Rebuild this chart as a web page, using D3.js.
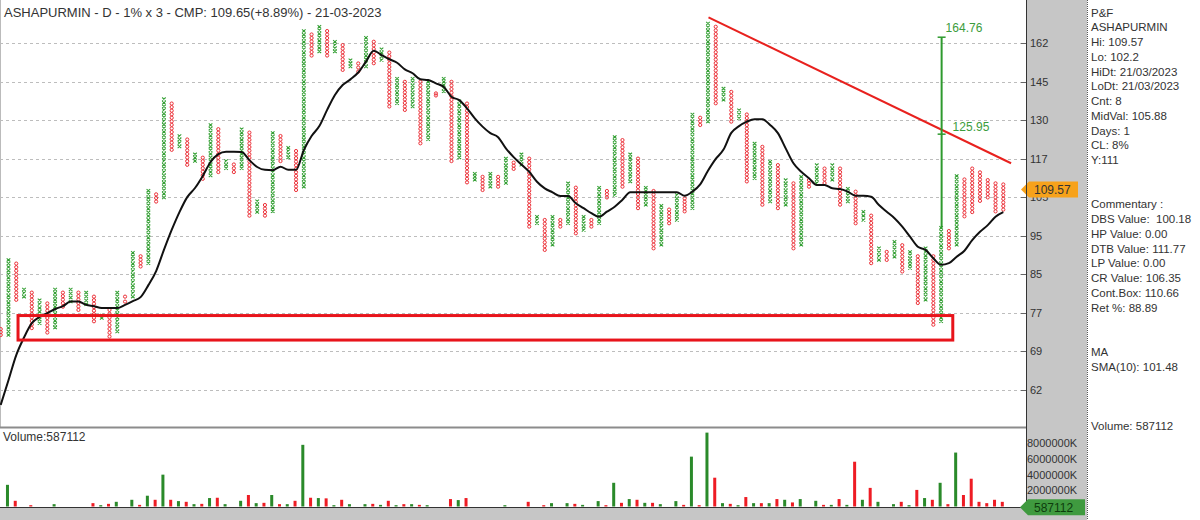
<!DOCTYPE html>
<html><head><meta charset="utf-8">
<script src="https://cdn.jsdelivr.net/npm/d3@7"></script>
<style>body{margin:0;background:#fff}svg{display:block;font-family:Arial,"Liberation Sans",sans-serif}</style>
</head><body><svg id="c" width="1200" height="520"></svg>
<script>
// ---------------- DATA ----------------
const colType = "OXOXOXOXOXOXOXOXOXOXOXOXOXOXOXOXOXOXOXOXOXOXOXOXOXOXOXOXOXOXOXOXOXOXOXOXOXOXOXOXOXOXOXOXOXOXOXOXOXOXOXOXOXOXOXOXOXOXOXOXOXOX";
const colLow = [72.2,72.2,79.6,80.3,73.6,74.6,72.7,73.7,78.1,79.2,
77.4,78.6,75.0,75.7,71.9,72.9,79.2,80.3,87.3,88.1,
104.5,105.7,120.6,121.7,115.7,116.9,111.3,112.3,113.4,114.6,
113.4,114.6,100.5,101.5,100.5,101.7,116.9,118.1,107.9,108.9,
156.6,158.4,156.6,158.4,150.5,151.9,149.8,151.9,153.3,154.7,
136.0,137.2,134.7,136.0,122.8,124.2,140.2,141.8,116.9,118.1,
110.2,111.0,107.9,108.9,108.9,110.0,114.4,115.7,97.5,98.4,
91.4,92.7,97.5,98.4,95.7,96.6,97.5,98.4,105.7,106.4,
108.9,110.5,102.6,103.6,91.8,92.7,98.4,99.3,101.7,102.6,
129.2,130.4,137.2,138.5,130.4,131.6,110.5,111.5,103.6,104.5,
102.6,103.6,91.8,92.7,108.9,110.0,110.0,111.0,103.6,104.5,
98.4,99.3,88.1,88.9,88.9,89.7,86.1,86.9,78.9,79.6,
74.3,75.0,91.8,92.7,100.3,101.5,104.7,105.7,101.7,102.2];
const colHigh = [73.4,88.9,88.0,81.9,81.2,79.5,78.8,81.9,81.2,81.9,
81.2,81.2,80.3,76.2,77.4,81.2,80.3,90.7,89.8,107.7,
106.6,138.8,137.1,125.3,124.1,119.1,118.0,129.2,127.7,116.9,
115.8,127.7,126.5,104.6,103.5,126.4,125.3,121.3,120.2,167.6,
166.0,169.6,167.6,162.7,161.2,154.6,153.2,164.5,162.7,159.4,
157.9,146.9,145.6,146.9,145.6,145.6,141.0,146.9,145.6,138.0,
137.1,112.9,111.9,112.9,111.9,117.7,116.4,119.1,117.7,100.2,
99.3,100.2,99.3,109.9,108.6,100.2,99.3,108.6,107.6,125.0,
123.9,119.1,117.7,108.6,107.6,103.3,102.2,106.4,105.4,133.0,
131.8,171.1,169.6,142.9,141.6,134.6,133.0,122.7,121.6,116.7,
115.6,110.9,109.9,111.9,110.9,115.6,114.5,115.6,114.5,108.3,
107.4,101.6,100.5,91.8,90.9,93.5,92.6,90.9,89.8,91.8,
89.8,97.2,96.3,112.2,111.1,114.5,113.3,110.9,109.9,109.57];
const maValues = [59.5,63.7,68.3,71.7,74.6,75.9,76.7,77.6,78.2,79.2,
79.2,78.5,78.2,77.8,77.8,77.8,78.5,79.3,80.2,82.9,
86.2,91.4,96.6,101.5,105.8,108.5,112.2,116.6,119.2,120.0,
120.0,119.9,117.2,115.0,114.1,114.0,115.1,114.1,114.1,120.5,
125.3,128.8,134.7,140.4,144.3,146.6,149.4,154.0,158.7,156.8,
155.0,153.5,150.7,149.1,146.6,146.3,145.0,143.6,139.7,138.4,
135.3,131.6,128.6,126.3,124.9,121.1,118.2,115.8,113.5,110.4,
108.4,107.2,106.1,106.1,104.0,102.6,101.2,100.2,101.6,103.0,
105.0,107.2,107.2,107.2,107.2,107.2,107.2,107.2,106.2,107.4,
109.6,113.8,117.6,120.7,126.4,128.8,130.4,131.3,131.3,129.2,
126.3,121.1,116.2,113.5,111.5,109.4,109.4,108.4,108.2,107.4,
106.2,106.2,105.9,103.5,101.6,99.8,97.5,94.8,92.2,91.4,
89.3,87.7,88.1,89.7,91.2,93.9,96.1,97.9,100.2,101.48];
const volumes = [0,2730000,718000,0,167000,0,0,295000,0,0,
0,0,423000,167000,333000,590000,0,846000,205000,1359000,
846000,4013000,846000,680000,590000,295000,333000,1064000,1103000,295000,
0,718000,1449000,423000,462000,1449000,295000,295000,718000,7769000,
1103000,1064000,1026000,167000,846000,295000,0,295000,333000,205000,
718000,167000,295000,295000,205000,167000,0,0,936000,808000,
1064000,0,0,0,0,167000,0,0,590000,0,
167000,423000,0,423000,333000,205000,0,680000,167000,2987000,
462000,936000,846000,462000,462000,295000,0,680000,205000,6282000,
167000,9308000,3628000,423000,333000,167000,1192000,423000,423000,423000,
936000,846000,513000,936000,0,718000,205000,205000,936000,205000,
5641000,846000,2346000,590000,0,295000,590000,167000,2090000,1064000,
846000,2987000,295000,6795000,1449000,3500000,590000,423000,846000,587112];
const yTickLabels = ["62","69","77","85","95","105","117","130","145","162"];
const volTickValues = [2000000,4000000,6000000,8000000];
const trendLine = [{col:91.07, value:174.1},{col:130, value:116.2}];
const supportBox = {colStart:2.23, colEnd:122.5, low:71.2, high:76.2};
const target = {col:121, from:97.2, to:164.76, mid:125.95};
const lastPrice = 109.57;
const lastVolume = 587112;
const titleText = "ASHAPURMIN - D - 1% x 3 - CMP: 109.65(+8.89%) - 21-03-2023";
const infoLines = ["P&F","ASHAPURMIN","Hi: 109.57","Lo: 102.2","HiDt: 21/03/2023","LoDt: 21/03/2023","Cnt: 8","MidVal: 105.88","Days: 1","CL: 8%","Y:111","","","Commentary :","DBS Value:  100.18","HP Value: 0.00","DTB Value: 111.77","LP Value: 0.00","CR Value: 106.35","Cont.Box: 110.66","Ret %: 88.89","","","MA","SMA(10): 101.48","","","","Volume: 587112"];

// ---------------- CHART ----------------
const svg = d3.select('#c');
const x = d3.scaleLinear().domain([0,129]).range([0.7,1003.3]);
const y = d3.scaleLog().domain([62,162]).range([390,43.3]);
const yv = d3.scaleLinear().domain([0,8000000]).range([506.5,443]);
const GREEN_X = "#35a035", RED_O = "#ec2f37", GRAY = "#c6c6c6";

const defs = svg.append('defs');
defs.append('clipPath').attr('id','clipMain').append('rect').attr('x',0).attr('y',0).attr('width',1026).attr('height',427);
defs.append('clipPath').attr('id','clipVol').append('rect').attr('x',0).attr('y',428).attr('width',1026).attr('height',79.5);

// background panels
svg.append('rect').attr('x',1026).attr('y',0).attr('width',61).attr('height',520).attr('fill',GRAY);
svg.append('rect').attr('x',0).attr('y',508).attr('width',1087).attr('height',12).attr('fill',GRAY);
svg.append('line').attr('x1',1087.5).attr('x2',1087.5).attr('y1',0).attr('y2',520).attr('stroke','#555').attr('stroke-dasharray','1,1');
svg.append('line').attr('x1',0.5).attr('x2',0.5).attr('y1',0).attr('y2',427).attr('stroke','#bbb');

// y grid + axis
const tickVals = yTickLabels.map((l,i)=>62*Math.pow(162/62, i/(yTickLabels.length-1)));
const gg = svg.append('g');
tickVals.forEach((v,i)=>{
  const yy = Math.round(y(v))+0.5;
  gg.append('line').attr('x1',0).attr('x2',1021).attr('y1',yy).attr('y2',yy)
    .attr('stroke','#bdbdbd').attr('stroke-dasharray','3,3');
  gg.append('line').attr('x1',1021).attr('x2',1026).attr('y1',yy).attr('y2',yy).attr('stroke','#666');
  gg.append('text').attr('x',1030).attr('y',yy).attr('dy','0.35em').attr('font-size',11).attr('fill','#333').text(yTickLabels[i]);
});

// columns
const gc = svg.append('g').attr('clip-path','url(#clipMain)');
colLow.forEach((lo,i)=>{
  const hi = colHigh[i];
  const n = Math.max(1, Math.round(Math.log(hi/lo)/Math.log(1.01))+1);
  const cx = x(i);
  const vals = d3.range(n).map(k => n===1 ? lo : lo*Math.pow(hi/lo, k/(n-1)));
  if (colType[i]==='X') {
    const p = vals.map(v=>{const cy=y(v);return `M${cx-1.8},${cy-1.6}L${cx+1.8},${cy+1.6}M${cx+1.8},${cy-1.6}L${cx-1.8},${cy+1.6}`;}).join('');
    gc.append('path').attr('d',p).attr('stroke',GREEN_X).attr('stroke-width',1.05).attr('fill','none');
  } else {
    gc.selectAll(null).data(vals).enter().append('circle').attr('cx',cx).attr('cy',d=>y(d)).attr('r',1.6)
      .attr('fill','none').attr('stroke',RED_O).attr('stroke-width',1.0);
  }
});

// moving average
gc.append('path').datum(maValues)
  .attr('d', d3.line().x((d,i)=>x(i)).y(d=>y(d)).curve(d3.curveMonotoneX))
  .attr('fill','none').attr('stroke','#111').attr('stroke-width',2);

// trendline
gc.append('line').attr('x1',x(trendLine[0].col)).attr('y1',y(trendLine[0].value))
  .attr('x2',x(trendLine[1].col)).attr('y2',y(trendLine[1].value))
  .attr('stroke','#e8211e').attr('stroke-width',2);

// support box
gc.append('rect').attr('x',x(supportBox.colStart)).attr('y',y(supportBox.high))
  .attr('width',x(supportBox.colEnd)-x(supportBox.colStart)).attr('height',y(supportBox.low)-y(supportBox.high))
  .attr('fill','none').attr('stroke','#e8141b').attr('stroke-width',3);

// target line
const tx = x(target.col)+0.5;
gc.append('line').attr('x1',tx).attr('x2',tx).attr('y1',y(target.from)).attr('y2',y(target.to)).attr('stroke','#2e9a2e').attr('stroke-width',2);
[target.to, target.mid].forEach(v=>{
  gc.append('line').attr('x1',tx-4).attr('x2',tx+4).attr('y1',y(v)).attr('y2',y(v)).attr('stroke','#2e9a2e').attr('stroke-width',1.5);
});
svg.append('text').attr('x',tx+4).attr('y',y(target.to)-9).attr('dy','0.35em').attr('font-size',12).attr('fill','#3c9c3c').text(target.to.toFixed(2));
svg.append('text').attr('x',tx+11).attr('y',y(target.mid)-7).attr('dy','0.35em').attr('font-size',12).attr('fill','#3c9c3c').text(target.mid.toFixed(2));

// title
svg.append('text').attr('x',4).attr('y',16.7).attr('font-size',13).attr('fill','#333').text(titleText);

// price marker (drawn over the partly hidden 105 label, as in the reference)
const my = y(lastPrice)+5;
svg.append('path').attr('d',`M1021,${my}L1029,${my-8}L1078,${my-8}L1078,${my+8}L1029,${my+8}Z`).attr('fill','#f7a21b');
svg.append('text').attr('x',1034).attr('y',my).attr('dy','0.36em').attr('font-size',12).attr('fill','#333').text(lastPrice.toFixed(2));

// panel separators
svg.append('line').attr('x1',0).attr('x2',1026).attr('y1',427.5).attr('y2',427.5).attr('stroke','#8c8c8c').attr('stroke-width',2);
svg.append('line').attr('x1',1026.5).attr('x2',1026.5).attr('y1',0).attr('y2',508).attr('stroke','#333');
svg.append('line').attr('x1',0).attr('x2',1026).attr('y1',507.5).attr('y2',507.5).attr('stroke','#333');

// volume
const gvol = svg.append('g').attr('clip-path','url(#clipVol)');
gvol.selectAll('rect').data(volumes).enter().append('rect')
  .attr('x',(d,i)=>x(i)-2.5).attr('width',3)
  .attr('y',d=>yv(d)).attr('height',d=>yv(0)-yv(d))
  .attr('fill',(d,i)=>colType[i]==='X' ? '#2a8a2a' : '#ee1c24');
svg.append('text').attr('x',3).attr('y',437).attr('dy','0.35em').attr('font-size',12).attr('fill','#333').text('Volume:'+lastVolume);
volTickValues.forEach(v=>{
  svg.append('text').attr('x',1027).attr('y',yv(v)).attr('dy','0.35em').attr('font-size',11).attr('fill','#333').text(v+'K');
});
const vy = yv(lastVolume)+5.5;
svg.append('path').attr('d',`M1020,${vy}L1028,${vy-8}L1085,${vy-8}L1085,${vy+8}L1028,${vy+8}Z`).attr('fill','#3f9a3f');
svg.append('text').attr('x',1034).attr('y',vy).attr('dy','0.36em').attr('font-size',12).attr('fill','#0d3d0d').text(lastVolume);

// info panel
svg.append('g').selectAll('text').data(infoLines).enter().append('text')
  .attr('x',1091).attr('y',(d,i)=>12.7+i*14.75).attr('dy','0.35em')
  .attr('font-size',11.5).attr('fill','#333').style('white-space','pre').text(d=>d);
</script></body></html>
